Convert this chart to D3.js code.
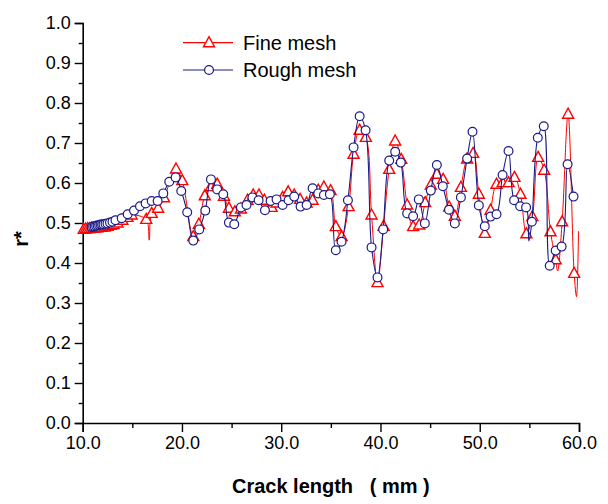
<!DOCTYPE html>
<html>
<head>
<meta charset="utf-8">
<script src="https://cdn.jsdelivr.net/npm/d3@7"></script>
<style>
  body { margin: 0; background: #fff; }
  text { font-family: Arial, "Liberation Sans", sans-serif; }
</style>
</head>
<body>
<div id="here"></div>
<script>
// DATA
// Fine mesh (markers)
const fineX = [10.1,10.3,10.5,10.7,10.9,11.1,11.3,11.5,11.7,11.9,12.2,12.5,12.8,13.1,13.5,14.0,14.5,14.93,16.4,16.95,17.6,18.2,19.4,20.03,21.14,21.7,22.3,22.92,23.55,24.23,24.73,25.33,25.94,26.6,27.18,27.76,28.3,29.03,29.53,30.14,30.7,31.31,31.9,32.56,33.16,33.73,34.3,34.97,35.5,36.08,36.79,37.29,37.9,38.53,39.1,39.7,40.31,40.88,41.48,42.09,42.69,43.29,43.9,44.5,45.07,45.68,46.31,46.92,47.49,48.1,48.73,49.33,49.91,50.51,51.09,51.69,52.3,52.9,53.5,54.1,54.7,55.3,55.88,56.49,57.13,57.65,58.3,58.9,59.51];
const fineY = [0.484,0.485,0.486,0.486,0.487,0.487,0.488,0.488,0.489,0.489,0.490,0.492,0.494,0.496,0.500,0.507,0.514,0.520,0.509,0.524,0.537,0.563,0.635,0.606,0.466,0.497,0.568,0.591,0.597,0.567,0.537,0.528,0.535,0.557,0.570,0.570,0.557,0.539,0.550,0.564,0.578,0.570,0.559,0.550,0.557,0.582,0.590,0.581,0.491,0.466,0.541,0.672,0.732,0.714,0.520,0.351,0.492,0.634,0.705,0.659,0.545,0.491,0.495,0.551,0.595,0.622,0.609,0.540,0.517,0.589,0.660,0.674,0.572,0.474,0.532,0.597,0.601,0.601,0.614,0.572,0.473,0.516,0.664,0.632,0.478,0.408,0.503,0.772,0.374];
// Fine mesh points on the curve without a marker
const fineLineX = [16.7, 57.85, 59.75, 59.95];
const fineLineY = [0.457, 0.380, 0.316, 0.480];

// Rough mesh
const roughX = [10.9,11.05,11.2,11.35,11.5,11.65,11.8,11.95,12.1,12.3,12.5,12.75,13.0,13.3,13.93,14.53,15.17,15.77,16.34,16.95,17.55,18.12,18.72,19.36,19.93,20.53,21.14,21.74,22.35,22.92,23.55,24.16,24.73,25.27,25.94,26.5,27.1,27.72,28.36,28.93,29.53,30.14,30.74,31.31,31.95,32.56,33.16,33.73,34.3,34.9,35.5,36.08,36.72,37.29,37.9,38.5,39.1,39.7,40.27,40.88,41.48,42.05,42.69,43.29,43.86,44.47,45.07,45.68,46.28,46.9,47.49,48.1,48.73,49.27,49.91,50.51,51.09,51.69,52.3,52.9,53.46,54.07,54.67,55.25,55.85,56.45,57.05,57.65,58.25,58.85,59.45];
const roughY = [0.490,0.491,0.492,0.493,0.494,0.495,0.496,0.496,0.497,0.498,0.499,0.501,0.503,0.507,0.512,0.522,0.531,0.542,0.549,0.555,0.555,0.574,0.603,0.614,0.580,0.527,0.456,0.484,0.531,0.609,0.584,0.572,0.501,0.497,0.539,0.545,0.564,0.557,0.532,0.555,0.559,0.545,0.557,0.566,0.541,0.545,0.587,0.574,0.570,0.572,0.432,0.453,0.557,0.689,0.767,0.732,0.439,0.364,0.484,0.656,0.678,0.651,0.524,0.517,0.559,0.499,0.581,0.645,0.592,0.533,0.499,0.564,0.661,0.728,0.544,0.492,0.516,0.522,0.620,0.680,0.557,0.542,0.539,0.503,0.713,0.742,0.393,0.431,0.441,0.647,0.566];
const roughLineX = [54.95];
const roughLineY = [0.455];

const xTicks = [10, 20, 30, 40, 50, 60];
const yTicks = [0, 0.1, 0.2, 0.3, 0.4, 0.5, 0.6, 0.7, 0.8, 0.9, 1.0];
const seriesNames = ["Fine mesh", "Rough mesh"];

// LAYOUT
const width = 608, height = 504;
const margin = { top: 23, right: 29, bottom: 81, left: 82.7 };
const red = "#ff0000", navy = "#1a1a88";

const svg = d3.select("#here").append("svg")
  .attr("width", width).attr("height", height);

const x = d3.scaleLinear().domain([10, 60]).range([margin.left, width - margin.right]);
const y = d3.scaleLinear().domain([0, 1]).range([height - margin.bottom, margin.top]);

// axes
const xAxis = svg.append("g")
  .attr("transform", `translate(0, ${y(0)})`)
  .call(d3.axisBottom(x).tickValues(xTicks).tickSize(9).tickPadding(4).tickFormat(d3.format(".1f")));
const xMinor = svg.append("g")
  .attr("transform", `translate(0, ${y(0)})`)
  .call(d3.axisBottom(x).tickValues([15, 25, 35, 45, 55]).tickSize(5).tickFormat(""));
const yAxis = svg.append("g")
  .attr("transform", `translate(${x(10)}, 0)`)
  .call(d3.axisLeft(y).tickValues(yTicks).tickSize(8).tickPadding(4).tickFormat(d3.format(".1f")));
const yMinor = svg.append("g")
  .attr("transform", `translate(${x(10)}, 0)`)
  .call(d3.axisLeft(y).tickValues(d3.range(0.05, 1, 0.1)).tickSize(4).tickFormat(""));

[xAxis, xMinor, yAxis, yMinor].forEach(function(g){
  g.select(".domain").attr("stroke", "#000").attr("stroke-width", 1.6);
  g.selectAll(".tick line").attr("stroke", "#000").attr("stroke-width", 1.4);
  g.selectAll(".tick text").attr("font-size", 18).attr("fill", "#000")
    .attr("font-family", "Arial, 'Liberation Sans', sans-serif");
});
xMinor.select(".domain").remove();
yMinor.select(".domain").remove();

// axis labels
svg.append("text")
  .attr("x", (x(10) + x(60)) / 2)
  .attr("y", 493)
  .attr("text-anchor", "middle")
  .attr("font-size", 20)
  .attr("font-weight", "bold")
  .style("white-space", "pre")
  .text("Crack length   ( mm )");

svg.append("text")
  .attr("transform", "translate(28, 239) rotate(-90)")
  .attr("text-anchor", "middle")
  .attr("font-size", 20)
  .attr("font-weight", "bold")
  .text("r*");

// series
const curve = d3.curveCatmullRom.alpha(0.5);
const line = d3.line().x(d => x(d[0])).y(d => y(d[1])).curve(curve);

const fineMarks = d3.zip(fineX, fineY);
const fineCurve = fineMarks.concat(d3.zip(fineLineX, fineLineY)).sort((a, b) => a[0] - b[0]);
const roughMarks = d3.zip(roughX, roughY);
const roughCurve = roughMarks.concat(d3.zip(roughLineX, roughLineY)).sort((a, b) => a[0] - b[0]);

const triPath = "M0,-6L5.5,4L-5.5,4Z";

svg.append("path")
  .datum(fineCurve)
  .attr("d", line)
  .attr("fill", "none")
  .attr("stroke", red)
  .attr("stroke-width", 1);

svg.selectAll("path.tri")
  .data(fineMarks)
  .enter()
  .append("path")
  .attr("class", "tri")
  .attr("transform", d => `translate(${x(d[0])}, ${y(d[1])})`)
  .attr("d", triPath)
  .attr("fill", "#fff")
  .attr("stroke", red)
  .attr("stroke-width", 1.4);

svg.append("path")
  .datum(roughCurve)
  .attr("d", line)
  .attr("fill", "none")
  .attr("stroke", navy)
  .attr("stroke-width", 1.1);

svg.selectAll("circle.pt")
  .data(roughMarks)
  .enter()
  .append("circle")
  .attr("class", "pt")
  .attr("cx", d => x(d[0]))
  .attr("cy", d => y(d[1]))
  .attr("r", 4.4)
  .attr("fill", "#fff")
  .attr("stroke", navy)
  .attr("stroke-width", 1.2);

// LEGEND
const legend = svg.append("g").attr("transform", "translate(183, 0)");
const rows = [
  { name: seriesNames[0], color: red, y: 42.7, mark: "tri" },
  { name: seriesNames[1], color: navy, y: 70, mark: "circle" }
];
rows.forEach(function(r){
  legend.append("line")
    .attr("x1", 0).attr("x2", 50)
    .attr("y1", r.y).attr("y2", r.y)
    .attr("stroke", r.color).attr("stroke-width", 1.2);
  if (r.mark === "tri") {
    legend.append("path")
      .attr("transform", `translate(26, ${r.y})`)
      .attr("d", triPath)
      .attr("fill", "#fff").attr("stroke", r.color).attr("stroke-width", 1.4);
  } else {
    legend.append("circle")
      .attr("cx", 26).attr("cy", r.y).attr("r", 4.4)
      .attr("fill", "#fff").attr("stroke", r.color).attr("stroke-width", 1.2);
  }
  legend.append("text")
    .attr("x", 60).attr("y", r.y + 7)
    .attr("font-size", 20)
    .text(r.name);
});
</script>
</body>
</html>
